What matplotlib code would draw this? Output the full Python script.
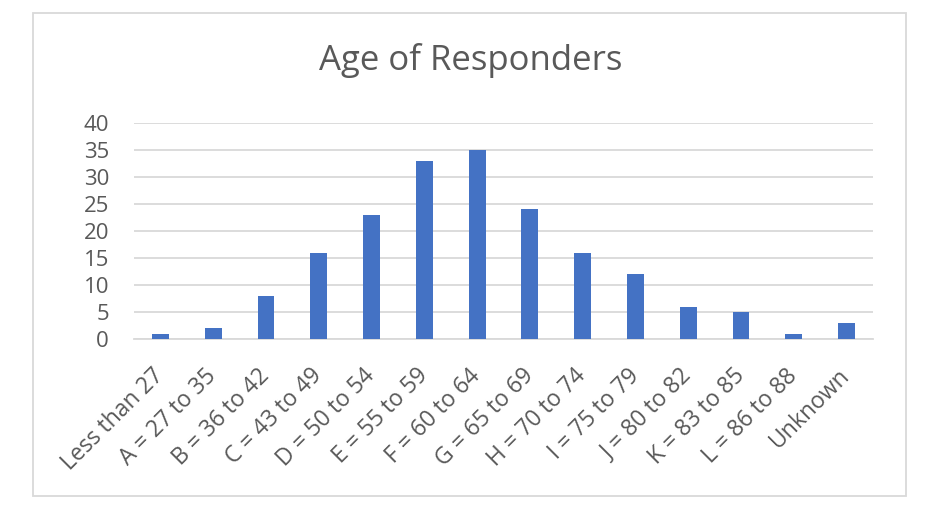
import matplotlib.pyplot as plt
from matplotlib.patches import Rectangle

categories = ["Less than 27", "A = 27 to 35", "B = 36 to 42", "C = 43 to 49",
              "D = 50 to 54", "E = 55 to 59", "F = 60 to 64", "G = 65 to 69",
              "H = 70 to 74", "I = 75 to 79", "J = 80 to 82", "K = 83 to 85",
              "L = 86 to 88", "Unknown"]
counts = [1, 2, 8, 16, 23, 33, 35, 24, 16, 12, 6, 5, 1, 3]
yticks = [0, 5, 10, 15, 20, 25, 30, 35, 40]

plt.rcParams['font.family'] = ['Open Sans', 'DejaVu Sans']
grey = '#595959'

fig = plt.figure(figsize=(9.28, 5.22), dpi=100)
# outer chart border
fig.patches.append(Rectangle((33 / 928, 1 - 496 / 522), 873 / 928, 483 / 522,
                             transform=fig.transFigure, fill=False,
                             edgecolor='#d9d9d9', linewidth=1.3))

ax = fig.add_axes([134 / 928, 1 - 339 / 522, 739 / 928, 216 / 522])
x = range(len(categories))
ax.bar(x, counts, width=0.32, color='#4472c4', zorder=3)
ax.set_xlim(-0.5, len(categories) - 0.5)
ax.set_ylim(0, 40)
ax.set_yticks(yticks)
ax.set_yticklabels([str(v) for v in yticks], fontsize=16, color=grey)
ax.set_xticks(list(x))
ax.set_xticklabels(categories, rotation=45, ha='right', va='center',
                   rotation_mode='anchor', fontsize=16.5, color=grey)
ax.tick_params(axis='both', length=0)
ax.tick_params(axis='x', pad=24)
ax.tick_params(axis='y', pad=18)
ax.grid(axis='y', color='#d9d9d9', linewidth=1.3, zorder=0)
for s in ['top', 'right', 'left']:
    ax.spines[s].set_visible(False)
ax.spines['bottom'].set_color('#d9d9d9')
ax.spines['bottom'].set_linewidth(1.3)

fig.text(471 / 928, 1 - 60 / 522, "Age of Responders", ha='center', va='center',
         fontsize=25, color=grey)

fig.savefig('out.png', dpi=100)
